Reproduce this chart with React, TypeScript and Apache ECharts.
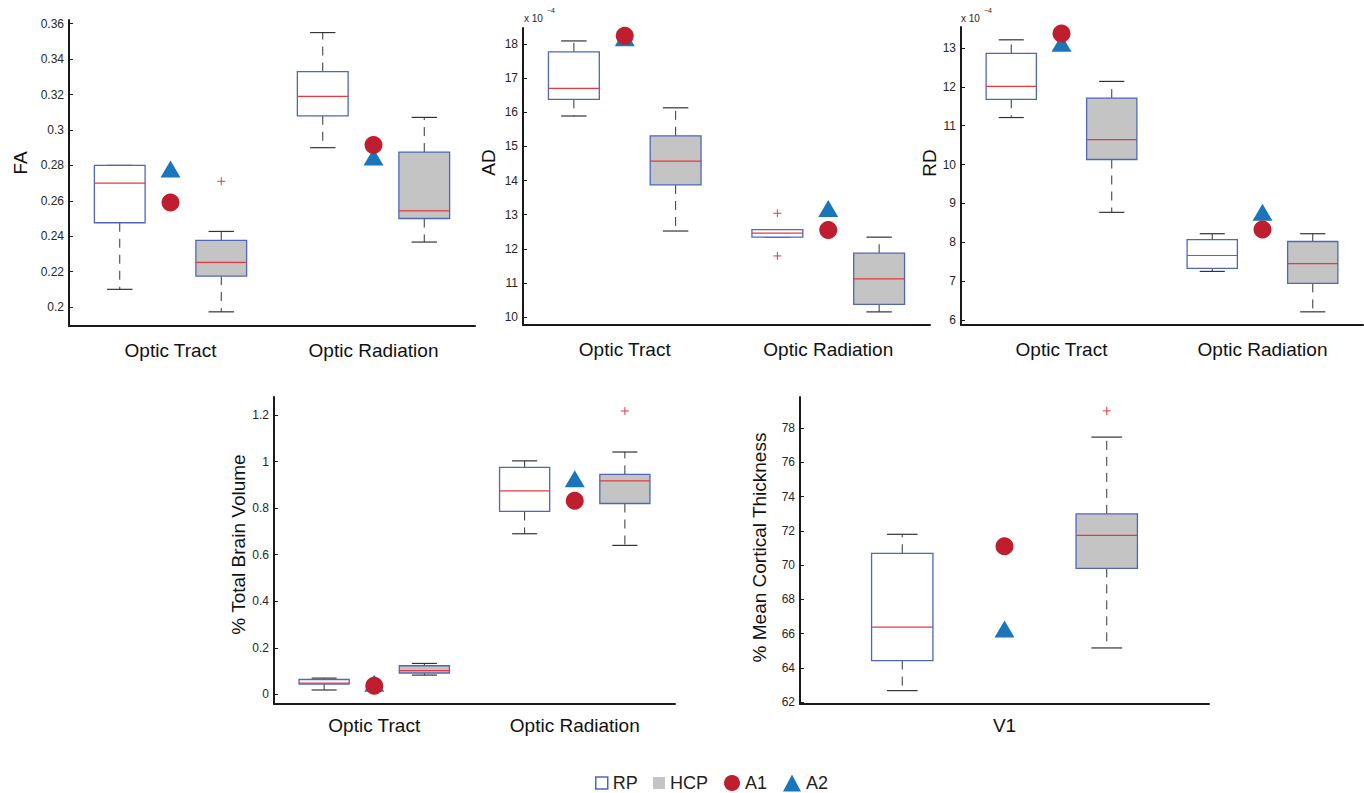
import React, { useEffect, useRef } from "react";
import * as echarts from "echarts";

// ---------------- data ----------------
const tractCategories = ["Optic Tract", "Optic Radiation"];
const v1Categories = ["V1"];

// each box: [lower whisker, Q1, median, Q3, upper whisker], one per category
const faRP = [[0.21, 0.2476, 0.27, 0.28, 0.28], [0.29, 0.308, 0.319, 0.333, 0.355]];
const faHCP = [[0.1973, 0.2175, 0.2252, 0.2376, 0.2427], [0.2367, 0.25, 0.2543, 0.2875, 0.3071]];
const faRPOut: number[][] = [[], []];
const faHCPOut: number[][] = [[0.271], []];
const faA1 = [0.259, 0.2915];
const faA2 = [0.278, 0.2847];
const faTicks = [0.2, 0.22, 0.24, 0.26, 0.28, 0.3, 0.32, 0.34, 0.36];

const adRP = [[15.89, 16.38, 16.7, 17.77, 18.09], [12.34, 12.34, 12.46, 12.56, 12.56]];
const adHCP = [[12.52, 13.87, 14.57, 15.31, 16.13], [10.15, 10.37, 11.12, 11.87, 12.34]];
const adRPOut: number[][] = [[], [13.04, 11.79]];
const adHCPOut: number[][] = [[], []];
const adA1 = [18.24, 12.55];
const adA2 = [18.18, 13.18];
const adTicks = [10, 11, 12, 13, 14, 15, 16, 17, 18];

const rdRP = [[11.21, 11.68, 12.01, 12.86, 13.21], [7.25, 7.33, 7.66, 8.07, 8.22]];
const rdHCP = [[8.77, 10.13, 10.64, 11.71, 12.14], [6.21, 6.94, 7.45, 8.02, 8.22]];
const rdRPOut: number[][] = [[], []];
const rdHCPOut: number[][] = [[], []];
const rdA1 = [13.37, 8.33];
const rdA2 = [13.12, 8.77];
const rdTicks = [6, 7, 8, 9, 10, 11, 12, 13];

const tbvRP = [[0.019, 0.0447, 0.049, 0.064, 0.07], [0.69, 0.786, 0.874, 0.975, 1.003]];
const tbvHCP = [[0.083, 0.092, 0.102, 0.123, 0.133], [0.64, 0.82, 0.917, 0.945, 1.041]];
const tbvRPOut: number[][] = [[], []];
const tbvHCPOut: number[][] = [[], [1.217]];
const tbvA1 = [0.037, 0.832];
const tbvA2 = [0.048, 0.926];
const tbvTicks = [0, 0.2, 0.4, 0.6, 0.8, 1, 1.2];

const mctRP = [[62.68, 64.43, 66.38, 70.69, 71.8]];
const mctHCP = [[65.17, 69.81, 71.74, 72.99, 77.47]];
const mctRPOut: number[][] = [[]];
const mctHCPOut: number[][] = [[79.0]];
const mctA1 = [71.1];
const mctA2 = [66.28];
const mctTicks = [62, 64, 66, 68, 70, 72, 74, 76, 78];

// ---------------- styling ----------------
const BLUE = "#4f67b9";
const RED = "#e8383d";
const GRAY_FILL = "#c4c4c4";
const A1_COLOR = "#be1e2d";
const A2_COLOR = "#1a75bb";
const AXIS = "#1a1a1a";
const FONT = "Liberation Sans, Arial, sans-serif";

type Panel = {
  cats: string[];
  rp: number[][];
  hcp: number[][];
  rpOut: number[][];
  hcpOut: number[][];
  a1: number[];
  a2: number[];
  ticks: number[];
  name: string;
  grid: { left: number; top: number; width: number; height: number };
  yMin: number;
  yMax: number;
  nameGap: number;
  nameShift: number;
  boxW: number;
  labelMargin: number;
};

const panels: Panel[] = [
  {
    cats: tractCategories, rp: faRP, hcp: faHCP, rpOut: faRPOut, hcpOut: faHCPOut, a1: faA1, a2: faA2,
    ticks: faTicks, name: "FA",
    grid: { left: 69, top: 20, width: 406, height: 306 }, yMin: 0.1893, yMax: 0.3621,
    nameGap: 39, nameShift: 10, boxW: 0.5, labelMargin: 15,
  },
  {
    cats: tractCategories, rp: adRP, hcp: adHCP, rpOut: adRPOut, hcpOut: adHCPOut, a1: adA1, a2: adA2,
    ticks: adTicks, name: "AD",
    grid: { left: 523, top: 28, width: 407, height: 297 }, yMin: 9.766, yMax: 18.469,
    nameGap: 25, nameShift: 14, boxW: 0.5, labelMargin: 15,
  },
  {
    cats: tractCategories, rp: rdRP, hcp: rdHCP, rpOut: rdRPOut, hcpOut: rdHCPOut, a1: rdA1, a2: rdA2,
    ticks: rdTicks, name: "RD",
    grid: { left: 961, top: 27, width: 402, height: 298 }, yMin: 5.871, yMax: 13.54,
    nameGap: 22, nameShift: 13, boxW: 0.5, labelMargin: 15,
  },
  {
    cats: tractCategories, rp: tbvRP, hcp: tbvHCP, rpOut: tbvRPOut, hcpOut: tbvHCPOut, a1: tbvA1, a2: tbvA2,
    ticks: tbvTicks, name: "% Total Brain Volume",
    grid: { left: 274, top: 397, width: 401, height: 307 }, yMin: -0.0412, yMax: 1.2773,
    nameGap: 25, nameShift: 6, boxW: 0.5, labelMargin: 12,
  },
  {
    cats: v1Categories, rp: mctRP, hcp: mctHCP, rpOut: mctRPOut, hcpOut: mctHCPOut, a1: mctA1, a2: mctA2,
    ticks: mctTicks, name: "% Mean Cortical Thickness",
    grid: { left: 800, top: 397, width: 409, height: 307 }, yMin: 61.9, yMax: 79.81,
    nameGap: 31, nameShift: 3, boxW: 0.3, labelMargin: 12,
  },
];

const center = (i: number) => 1.5 + 2 * i;

function boxRenderer(fill: string, boxW: number) {
  return (_params: any, api: any) => {
    const x = api.value(0);
    const lo = api.coord([x, api.value(1)]);
    const q1 = api.coord([x, api.value(2)]);
    const med = api.coord([x, api.value(3)]);
    const q3 = api.coord([x, api.value(4)]);
    const hi = api.coord([x, api.value(5)]);
    const w = api.size([boxW, 0])[0];
    const cx = q1[0];
    const cap = w / 4;
    const whisk = { stroke: "#333", lineWidth: 1, lineDash: [9, 7] };
    const capStyle = { stroke: "#333", lineWidth: 1.2 };
    return {
      type: "group",
      children: [
        { type: "line", shape: { x1: cx, y1: q3[1], x2: cx, y2: hi[1] }, style: whisk },
        { type: "line", shape: { x1: cx, y1: q1[1], x2: cx, y2: lo[1] }, style: whisk },
        { type: "line", shape: { x1: cx - cap, y1: hi[1], x2: cx + cap, y2: hi[1] }, style: capStyle },
        { type: "line", shape: { x1: cx - cap, y1: lo[1], x2: cx + cap, y2: lo[1] }, style: capStyle },
        {
          type: "rect",
          shape: { x: cx - w / 2, y: q3[1], width: w, height: Math.max(q1[1] - q3[1], 1) },
          style: { fill, stroke: BLUE, lineWidth: 1.3 },
        },
        { type: "line", shape: { x1: cx - w / 2, y1: med[1], x2: cx + w / 2, y2: med[1] }, style: { stroke: RED, lineWidth: 1.2 } },
      ],
    };
  };
}

function plusRenderer(_params: any, api: any) {
  const p = api.coord([api.value(0), api.value(1)]);
  const s = 4;
  return {
    type: "group",
    children: [
      { type: "line", shape: { x1: p[0] - s, y1: p[1], x2: p[0] + s, y2: p[1] }, style: { stroke: RED, lineWidth: 1 } },
      { type: "line", shape: { x1: p[0], y1: p[1] - s, x2: p[0], y2: p[1] + s }, style: { stroke: RED, lineWidth: 1 } },
    ],
  };
}

function buildOption() {
  const grid: any[] = [];
  const xAxis: any[] = [];
  const yAxis: any[] = [];
  const series: any[] = [];

  panels.forEach((p, k) => {
    grid.push({ ...p.grid, outerBoundsMode: "none", containLabel: false });
    const centers = p.cats.map((_, i) => center(i));
    xAxis.push({
      type: "value",
      gridIndex: k,
      min: 0.5,
      max: 0.5 + 2 * p.cats.length,
      axisLine: { show: true, onZero: false, lineStyle: { color: AXIS, width: 2 } },
      axisTick: { show: false },
      splitLine: { show: false },
      axisLabel: {
        customValues: centers,
        formatter: (v: number) => p.cats[Math.round((v - 1.5) / 2)] ?? "",
        fontSize: 19,
        fontFamily: FONT,
        color: "#111",
        margin: p.labelMargin,
      },
    });
    yAxis.push({
      type: "value",
      gridIndex: k,
      min: p.yMin,
      max: p.yMax,
      name: p.name,
      nameLocation: "middle",
      nameGap: p.nameGap,
      nameTextStyle: { fontSize: 19, fontFamily: FONT, color: "#111", padding: [0, 0, 0, 2 * p.nameShift] },
      axisLine: { show: true, onZero: false, lineStyle: { color: AXIS, width: 2 } },
      axisTick: { show: true, inside: true, length: 4, customValues: p.ticks, lineStyle: { color: AXIS, width: 1 } },
      splitLine: { show: false },
      axisLabel: {
        customValues: p.ticks,
        formatter: (v: number) => String(+v.toFixed(4)),
        fontSize: 12,
        fontFamily: FONT,
        color: "#262626",
        margin: 5,
      },
    });

    series.push({
      type: "custom",
      name: "RP",
      xAxisIndex: k,
      yAxisIndex: k,
      renderItem: boxRenderer("#ffffff", p.boxW),
      data: p.rp.map((b, i) => [center(i) - 0.5, ...b]),
      encode: { x: 0, y: [1, 2, 3, 4, 5] },
      itemStyle: { color: BLUE },
      z: 2,
    });
    series.push({
      type: "custom",
      name: "HCP",
      xAxisIndex: k,
      yAxisIndex: k,
      renderItem: boxRenderer(GRAY_FILL, p.boxW),
      data: p.hcp.map((b, i) => [center(i) + 0.5, ...b]),
      encode: { x: 0, y: [1, 2, 3, 4, 5] },
      itemStyle: { color: GRAY_FILL },
      z: 2,
    });
    const outs: number[][] = [];
    p.rpOut.forEach((arr, i) => arr.forEach((v) => outs.push([center(i) - 0.5, v])));
    p.hcpOut.forEach((arr, i) => arr.forEach((v) => outs.push([center(i) + 0.5, v])));
    series.push({
      type: "custom",
      name: "outliers",
      xAxisIndex: k,
      yAxisIndex: k,
      renderItem: plusRenderer,
      data: outs,
      encode: { x: 0, y: 1 },
      z: 3,
    });
    series.push({
      type: "scatter",
      name: "A2",
      xAxisIndex: k,
      yAxisIndex: k,
      symbol: "triangle",
      symbolSize: [20, 17],
      itemStyle: { color: A2_COLOR, opacity: 1 },
      data: p.a2.map((v, i) => [center(i), v]),
      z: 4,
    });
    series.push({
      type: "scatter",
      name: "A1",
      xAxisIndex: k,
      yAxisIndex: k,
      symbol: "circle",
      symbolSize: 18,
      itemStyle: { color: A1_COLOR, opacity: 1 },
      data: p.a1.map((v, i) => [center(i), v]),
      z: 5,
    });
  });

  const legendBase = {
    orient: "horizontal",
    top: 774,
    padding: 0,
    selectedMode: false,
    textStyle: { fontSize: 18, fontFamily: FONT, color: "#222" },
  };

  const legend = [
    {
      ...legendBase,
      left: 595,
      itemWidth: 12,
      itemHeight: 12,
      data: [{ name: "RP", icon: "rect", itemStyle: { color: "#fff", borderColor: BLUE, borderWidth: 1.5 } }],
    },
    {
      ...legendBase,
      left: 653,
      itemWidth: 12,
      itemHeight: 12,
      data: [{ name: "HCP", icon: "rect", itemStyle: { color: GRAY_FILL, borderWidth: 0 } }],
    },
    {
      ...legendBase,
      left: 724,
      itemWidth: 16,
      itemHeight: 16,
      data: [{ name: "A1", icon: "circle", itemStyle: { color: A1_COLOR } }],
    },
    {
      ...legendBase,
      left: 783,
      itemWidth: 18,
      itemHeight: 17,
      data: [{ name: "A2", icon: "triangle", itemStyle: { color: A2_COLOR } }],
    },
  ];

  const sci = (left: number) => [
    { type: "text", left, top: 13, style: { text: "x 10", fontSize: 10, fontFamily: FONT, fill: "#262626" } },
    { type: "text", left: left + 23, top: 7, style: { text: "\u22124", fontSize: 7, fontFamily: FONT, fill: "#262626" } },
  ];

  return {
    animation: false,
    backgroundColor: "#ffffff",
    grid,
    xAxis,
    yAxis,
    series,
    legend,
    graphic: [...sci(524), ...sci(961)],
  };
}

export default function App() {
  const ref = useRef<HTMLDivElement>(null);
  useEffect(() => {
    if (!ref.current) return;
    const chart = echarts.init(ref.current, undefined, { renderer: "svg" });
    chart.setOption(buildOption() as any);
    return () => chart.dispose();
  }, []);
  return (
    <div
      ref={ref}
      style={{ position: "fixed", left: 0, top: 0, width: 1364, height: 793, background: "#fff" }}
    />
  );
}
